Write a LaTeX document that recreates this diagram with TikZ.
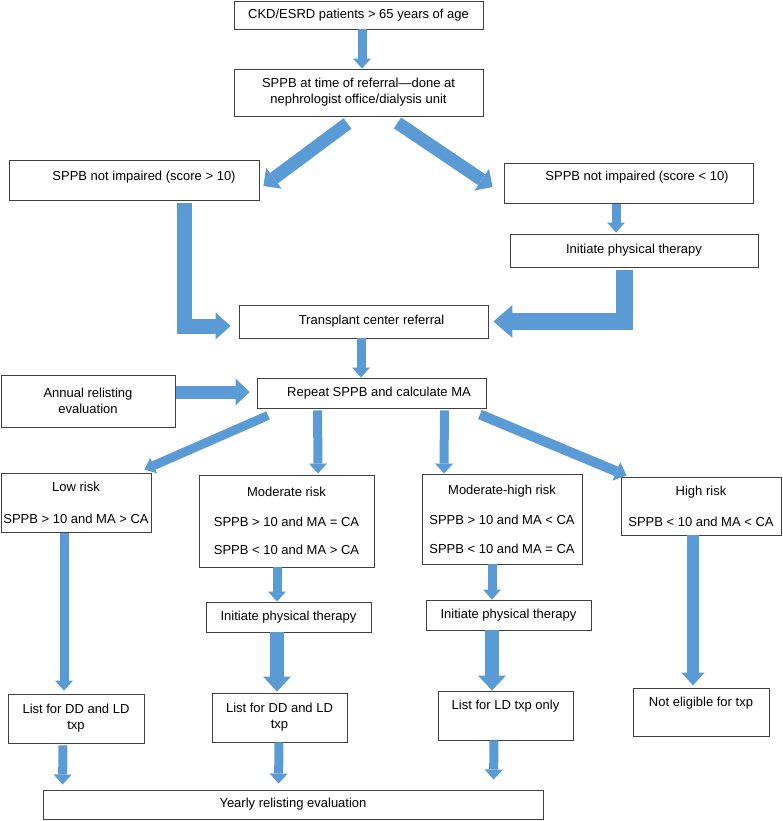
\documentclass[tikz,border=0pt]{standalone}
\usepackage{fontspec}
\setmainfont{Liberation Sans}
\usetikzlibrary{arrows.meta,calc}
\definecolor{arrowblue}{RGB}{91,155,213}
\definecolor{boxline}{RGB}{64,64,64}

\begin{document}
\begin{tikzpicture}[x=1pt,y=-1pt,
	box/.style={draw=boxline,line width=0.9pt,align=center,inner sep=2pt,font=\fontsize{13}{16}\selectfont},
	flow/.style n args={3}{draw=arrowblue,line width=#1,-{Triangle[width=#2,length=#3,line width=0pt]}},
	slim/.style={flow={9pt}{18pt}{10pt}},
	broad/.style={flow={14pt}{28pt}{15pt}}]
	\useasboundingbox (0,0) rectangle (783,821);

	\node[box,minimum width=249pt,minimum height=28pt] (start) at (358.5,15) {CKD/ESRD patients > 65 years of age};
	\node[box,minimum width=249pt,minimum height=47pt] (referral) at (358.5,92.5) {SPPB at time of referral—done at\\nephrologist office/dialysis unit};
	\node[box,minimum width=250pt,minimum height=40pt,text depth=9pt] (intact) at (134,180) {\hspace*{20pt}SPPB not impaired (score > 10)};
	\node[box,minimum width=249pt,minimum height=40pt,text depth=15pt] (impaired) at (628.5,183) {\hspace*{17pt}SPPB not impaired (score < 10)};
	\node[box,minimum width=248pt,minimum height=33pt] (therapyA) at (634,250.5) {Initiate physical therapy};
	\node[box,minimum width=249pt,minimum height=33pt] (txcenter) at (363.5,321.5) {\hspace*{16pt}Transplant center referral};
	\node[box,minimum width=174pt,minimum height=52pt] (annual) at (88,401) {Annual relisting\\evaluation};
	\node[box,minimum width=229pt,minimum height=30pt] (rescreen) at (371.5,393) {\hspace*{15pt}Repeat SPPB and calculate MA};

	\node[box,minimum width=150pt,minimum height=59pt] (low) at (76,502.5) {Low risk\\[16pt]SPPB > 10 and MA > CA};
	\node[box,minimum width=175pt,minimum height=92pt] (moderate) at (286.5,521) {Moderate risk\\[14pt]SPPB > 10 and MA = CA\\[12pt]SPPB < 10 and MA > CA};
	\node[box,minimum width=160pt,minimum height=90pt] (modhigh) at (502,519) {Moderate-high risk\\[14pt]SPPB > 10 and MA < CA\\[13pt]SPPB < 10 and MA = CA};
	\node[box,minimum width=160pt,minimum height=58pt] (high) at (701,506) {High risk\\[15pt]SPPB < 10 and MA < CA};
	\node[box,minimum width=165pt,minimum height=30pt] (therapyB) at (288.5,617) {Initiate physical therapy};
	\node[box,minimum width=165pt,minimum height=30pt] (therapyC) at (508.5,615) {Initiate physical therapy};
	\node[box,minimum width=136pt,minimum height=49pt] (listlow) at (76,718.5) {List for DD and LD\\txp};
	\node[box,minimum width=135pt,minimum height=49pt] (listmod) at (279.5,717.5) {List for DD and LD\\txp};
	\node[box,minimum width=135pt,minimum height=49pt,text depth=22pt] (listld) at (505.5,715.5) {List for LD txp only};
	\node[box,minimum width=136pt,minimum height=48pt,text depth=21pt] (noelig) at (701,712) {Not eligible for txp};
	\node[box,minimum width=500pt,minimum height=29pt] (yearly) at (293,804.5) {Yearly relisting evaluation};

	\path[draw,slim] ([xshift=3.5pt]start.south) -- ([xshift=3.5pt]referral.north);
	\path[draw,flow={13pt}{26pt}{13pt}] ($(referral.south)+(-11,7)$) -- ($(intact.east)+(4,6)$);
	\path[draw,flow={13pt}{26pt}{13pt}] ($(referral.south)+(39,6.5)$) -- ($(impaired.west)+(-11,4)$);
	\path[draw,slim] ($(impaired.south)+(-12.5,1)$) -- ($(therapyA.north)+(-18,-1)$);
	\path[draw,flow={15pt}{27pt}{15pt}] ($(intact.south)+(50,3)$) |- ($(txcenter.west)+(-8,4.5)$);
	\path[draw,flow={17pt}{33pt}{19pt}] ($(therapyA.south)+(-9.5,3)$) |- ($(txcenter.east)+(5,0)$);
	\path[draw,slim] ($(txcenter.south)+(-2.5,0)$) -- ($(rescreen.north)+(-10.5,0)$);
	\path[draw,flow={13pt}{27pt}{14pt}] ($(annual.east)+(1,-9)$) -- ($(rescreen.west)+(-7,-1)$);

	\path[draw,flow={9pt}{17pt}{10pt}] ($(rescreen.south west)+(11.5,7)$) -- ($(low.north east)+(-7,-3)$);
	\path[draw,slim] ($(rescreen.south west)+(61,2)$) -- ($(moderate.north)+(31.5,-1)$);
	\path[draw,slim] ($(rescreen.south east)+(-42,2)$) -- ($(modhigh.north)+(-58,0)$);
	\path[draw,flow={10pt}{20pt}{11pt}] ($(rescreen.south east)+(-6.5,6)$) -- ($(high.north west)+(6,-1)$);

	\path[draw,slim] ($(low.south)+(-12,1)$) -- ($(listlow.north)+(-12,-3)$);
	\path[draw,slim] ($(moderate.south)+(-9.5,0)$) -- ($(therapyB.north)+(-11.5,0)$);
	\path[draw,broad] ($(therapyB.south)+(-11.5,0)$) -- ($(listmod.north)+(-2.5,-1)$);
	\path[draw,slim] ($(modhigh.south)+(-10,0)$) -- ($(therapyC.north)+(-16.5,0)$);
	\path[draw,broad] ($(therapyC.south)+(-16.5,0)$) -- ($(listld.north)+(-13.5,0)$);
	\path[draw,flow={12pt}{23pt}{13pt}] ($(high.south)+(-8,0)$) -- ($(noelig.north)+(-8,-2)$);

	\path[draw,slim] ($(listlow.south)+(-13,2)$) -- ($(yearly.north west)+(20,-5)$);
	\path[draw,slim] ($(listmod.south)+(-0.5,0)$) -- ($(yearly.north west)+(236,-6)$);
	\path[draw,slim] ($(listld.south)+(-11.5,0)$) -- ($(yearly.north west)+(451,-10)$);
\end{tikzpicture}
\end{document}
